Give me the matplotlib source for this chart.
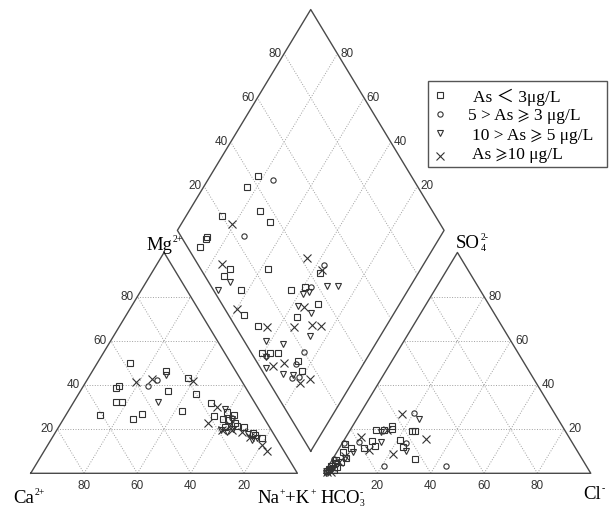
import numpy as np
import matplotlib.pyplot as plt
from matplotlib.patches import Rectangle

plt.rcParams['font.family'] = ['Liberation Serif', 'STIXGeneral', 'DejaVu Sans']
plt.rcParams['mathtext.fontset'] = 'stix'

H = np.sqrt(3) / 2

labels = ['As ＜ 3μg/L', '5 > As ⩾ 3 μg/L', '10 > As ⩾ 5 μg/L', 'As ⩾10 μg/L']
markers = ['s', 'o', 'v', 'x']

# cation triangle: (Na+K %, Mg %)
cat_sq = np.array([(12.3, 49.8), (27.5, 46.5), (12.8, 38.4), (13.3, 39.5), (33.0, 37.3), (15.9, 32.2),
                   (18.0, 32.2), (12.5, 26.6), (26.2, 24.6), (28.2, 26.8), (42.7, 28.2), (37.3, 43.0),
                   (44.2, 35.9), (51.8, 31.8), (55.8, 26.0), (59.5, 27.9), (63.1, 26.4), (62.0, 24.1),
                   (65.3, 22.6), (62.3, 21.1), (66.5, 21.4), (69.7, 20.8), (74.3, 18.4), (75.4, 17.3),
                   (78.7, 15.9), (59.8, 24.7)])
cat_ci = np.array([(26.1, 42.3), (24.1, 39.6), (63.0, 25.0)])
cat_tr = np.array([(28.3, 44.7), (31.4, 32.4), (58.3, 28.9), (63.2, 24.5), (61.6, 19.6), (64.1, 18.8),
                   (72.5, 17.8), (76.8, 15.9), (75.4, 15.1), (65.9, 20.1)])
cat_x = np.array([(18.8, 41.5), (24.1, 42.6), (40.0, 42.0), (55.0, 30.0), (55.0, 22.6), (61.8, 19.6),
                  (65.6, 19.6), (69.7, 18.8), (73.9, 16.6), (80.2, 12.8), (83.4, 10.2), (63.8, 21.9)])

# anion triangle: (Cl %, SO4 %)
an_sq = np.array([(23.5, 19.2), (24.5, 19.3), (14.9, 21.4), (15.3, 20.1), (12.7, 19.6), (9.8, 19.6),
                  (10.8, 14.6), (12.8, 12.5), (21.0, 15.1), (23.7, 11.8), (30.9, 6.3), (9.3, 11.3),
                  (4.3, 11.3), (1.3, 13.3), (1.4, 6.0), (3.7, 5.1), (0.8, 3.3), (4.6, 6.9), (2.8, 1.5),
                  (2.2, 9.6), (1.0, 2.0), (2.0, 4.5), (3.5, 3.0), (0.5, 1.0)])
an_ci = np.array([(20.0, 27.5), (5.9, 14.3), (23.8, 13.6), (20.9, 3.2), (43.9, 3.3), (0.6, 13.9), (0.5, 6.5)])
an_tr = np.array([(23.5, 24.5), (12.0, 18.6), (14.3, 14.0), (25.5, 10.1), (6.1, 9.8), (1.1, 1.5),
                  (2.7, 4.2), (4.5, 7.0), (0.5, 0.3), (2.0, 2.5)])
an_x = np.array([(15.9, 26.7), (30.4, 15.7), (13.8, 19.6), (5.7, 16.3), (21.6, 8.6), (11.5, 10.6),
                 (2.2, 0.6), (2.9, 5.1), (3.9, 7.8), (1.5, 3.0), (0.8, 0.5)])

# diamond: (SO4+Cl %, Ca+Mg %)
dia_sq = np.array([(42.7, 82.0), (35.8, 83.8), (35.5, 73.5), (36.7, 67.2), (20.2, 86.5), (9.7, 87.2),
                   (8.7, 87.3), (4.7, 87.7), (11.0, 71.5), (7.2, 72.2), (25.3, 57.1), (43.8, 36.8),
                   (10.4, 62.6), (29.0, 44.0), (35.1, 39.4), (5.8, 55.8), (36.1, 30.4), (25.0, 35.6),
                   (8.6, 47.9), (3.9, 40.4), (7.2, 37.5), (9.9, 34.4), (15.6, 25.3), (14.8, 21.5)])
dia_ci = np.array([(47.1, 75.7), (23.7, 73.7), (47.1, 37.1), (37.2, 37.3), (20.0, 25.0), (4.7, 38.6),
                   (14.1, 25.5), (9.5, 23.5), (12.5, 21.0)])
dia_tr = np.array([(8.0, 68.5), (1.8, 71.3), (32.7, 38.5), (35.2, 36.7), (43.4, 31.4), (47.6, 27.2),
                   (28.2, 37.7), (31.3, 31.2), (26.0, 26.2), (8.3, 41.7), (13.8, 34.9), (1.8, 35.7),
                   (7.0, 27.8), (10.6, 23.9), (4.6, 38.0)])
dia_x = np.array([(21.8, 81.1), (42.3, 45.1), (9.2, 75.5), (45.4, 36.6), (4.6, 59.8), (30.2, 35.2),
                  (11.8, 44.6), (21.9, 34.4), (29.0, 28.2), (32.1, 24.4), (5.1, 33.6), (9.9, 29.9),
                  (11.5, 19.5), (16.1, 16.4)])


def cat_xy(p):
    na, mg = p.T / 100
    return na + mg / 2, mg * H


def an_xy(p):
    cl, so4 = p.T / 100
    return 1.1 + cl + so4 / 2, so4 * H


def dia_xy(p):
    u, v = p.T / 100
    return 1.05 + 0.5 * (u - v), 0.1 * H + H * (u + v)


fig = plt.figure(figsize=(6.1, 5.09), dpi=100)
ax = fig.add_axes([0, 0, 1, 1])
ax.set_xlim(-30.7 / 266.7, (610 - 30.7) / 266.7)
ax.set_ylim((473.3 - 509) / 255, 473.3 / 255)
ax.axis('off')

edge = '#4a4a4a'
gridc = '#a0a0a0'
ticks = [0.2, 0.4, 0.6, 0.8]

# triangles
for x0 in [0, 1.1]:
    for t in ticks:
        ax.plot([x0 + t / 2, x0 + 1 - t / 2], [t * H, t * H], ls=':', c=gridc, lw=0.7)
        ax.plot([x0 + t, x0 + t + (1 - t) / 2], [0, (1 - t) * H], ls=':', c=gridc, lw=0.7)
        ax.plot([x0 + 1 - t, x0 + (1 - t) / 2], [0, (1 - t) * H], ls=':', c=gridc, lw=0.7)
    ax.plot([x0, x0 + 1, x0 + 0.5, x0], [0, 0, H, 0], c=edge, lw=1.0)

# diamond
B = np.array([1.05, 0.1 * H])
R = B + np.array([0.5, H])
L = B + np.array([-0.5, H])
T = B + np.array([0, 2 * H])
for t in ticks:
    p0 = B + t * (R - B)
    ax.plot([p0[0], p0[0] + (L - B)[0]], [p0[1], p0[1] + (L - B)[1]], ls=':', c=gridc, lw=0.7)
    p0 = B + t * (L - B)
    ax.plot([p0[0], p0[0] + (R - B)[0]], [p0[1], p0[1] + (R - B)[1]], ls=':', c=gridc, lw=0.7)
ax.plot([B[0], R[0], T[0], L[0], B[0]], [B[1], R[1], T[1], L[1], B[1]], c=edge, lw=1.0)

# tick labels
tk = dict(fontsize=8.5, color='#333333', family=['Liberation Sans', 'DejaVu Sans'],
          textcoords='offset points')
for t in ticks:
    lab = str(int(round(t * 100)))
    ax.annotate(lab, (t / 2, t * H), xytext=(-3, 0), ha='right', va='center', **tk)
    ax.annotate(str(int(round((1 - t) * 100))), (t, 0), xytext=(0, -9), ha='center', va='center', **tk)
    ax.annotate(lab, (2.1 - t / 2, t * H), xytext=(3, 0), ha='left', va='center', **tk)
    ax.annotate(lab, (1.1 + t, 0), xytext=(0, -9), ha='center', va='center', **tk)
    pl = L + t * (T - L)
    ax.annotate(lab, pl, xytext=(-2, 0), ha='right', va='center', **tk)
    pr = R + t * (T - R)
    ax.annotate(lab, pr, xytext=(2, 0), ha='left', va='center', **tk)

# data
mk = dict(ls='none', mfc='none', mec='#333333', mew=0.8)
sizes = [5, 3.8, 5, 5.5]
for m, s, c, a, d in zip(markers, sizes, [cat_sq, cat_ci, cat_tr, cat_x],
                         [an_sq, an_ci, an_tr, an_x], [dia_sq, dia_ci, dia_tr, dia_x]):
    ax.plot(*cat_xy(c), marker=m, ms=s, **mk)
    ax.plot(*an_xy(a), marker=m, ms=s, **mk)
    ax.plot(*dia_xy(d), marker=m, ms=s, **mk)


def px(x, y):
    return x / 610, 1 - y / 509


renderer = fig.canvas.get_renderer()


def chem(x, y, parts):
    # parts: (text, kind) with kind 'n' normal, 'sup', 'sub', 'subsup' (stacked "sub|sup")
    cx = x
    for txt, kind in parts:
        if kind == 'n':
            t = fig.text(*px(cx, y), txt, fontsize=13.5, va='baseline')
            cx += t.get_window_extent(renderer).width
        elif kind == 'sup':
            t = fig.text(*px(cx + 0.5, y - 8), txt, fontsize=7, va='baseline')
            cx += t.get_window_extent(renderer).width + 1
        else:
            sb, sp = txt.split('|')
            t1 = fig.text(*px(cx + 0.5, y + 3), sb, fontsize=7, va='baseline')
            t2 = fig.text(*px(cx + 0.5, y - 8), sp, fontsize=7, va='baseline')
            cx += max(t1.get_window_extent(renderer).width, t2.get_window_extent(renderer).width) + 1


chem(13, 503, [('Ca', 'n'), ('2+', 'sup')])
chem(146, 250, [('Mg', 'n'), ('2+', 'sup')])
chem(257, 503, [('Na', 'n'), ('+', 'sup'), ('+K', 'n'), ('+', 'sup')])
chem(320, 503, [('HCO', 'n'), ('3|-', 'subsup')])
chem(456, 248, [('SO', 'n'), ('4|2-', 'subsup')])
chem(583, 499, [('Cl', 'n'), ('-', 'sup')])

# legend
x0, y0 = px(428, 167)
x1, y1 = px(607, 81)
fig.patches.append(Rectangle((x0, y0), x1 - x0, y1 - y0, transform=fig.transFigure,
                             fill=False, ec='#555555', lw=1.0))
mark_y = [95, 113.5, 133, 156]
text_y = [97, 116, 136, 155]
text_x = [473, 468, 472, 472]
for m, s, my, ty, tx, lab in zip(markers, sizes, mark_y, text_y, text_x, labels):
    fig.lines.append(plt.Line2D([440 / 610], [1 - my / 509], marker=m, ms=s,
                                transform=fig.transFigure, **mk))
    fig.text(*px(tx, ty), lab, fontsize=12.5, va='center', ha='left',
             family=['Liberation Serif', 'STIXGeneral', 'Noto Sans CJK SC'])

fig.savefig('out.png', dpi=100)
